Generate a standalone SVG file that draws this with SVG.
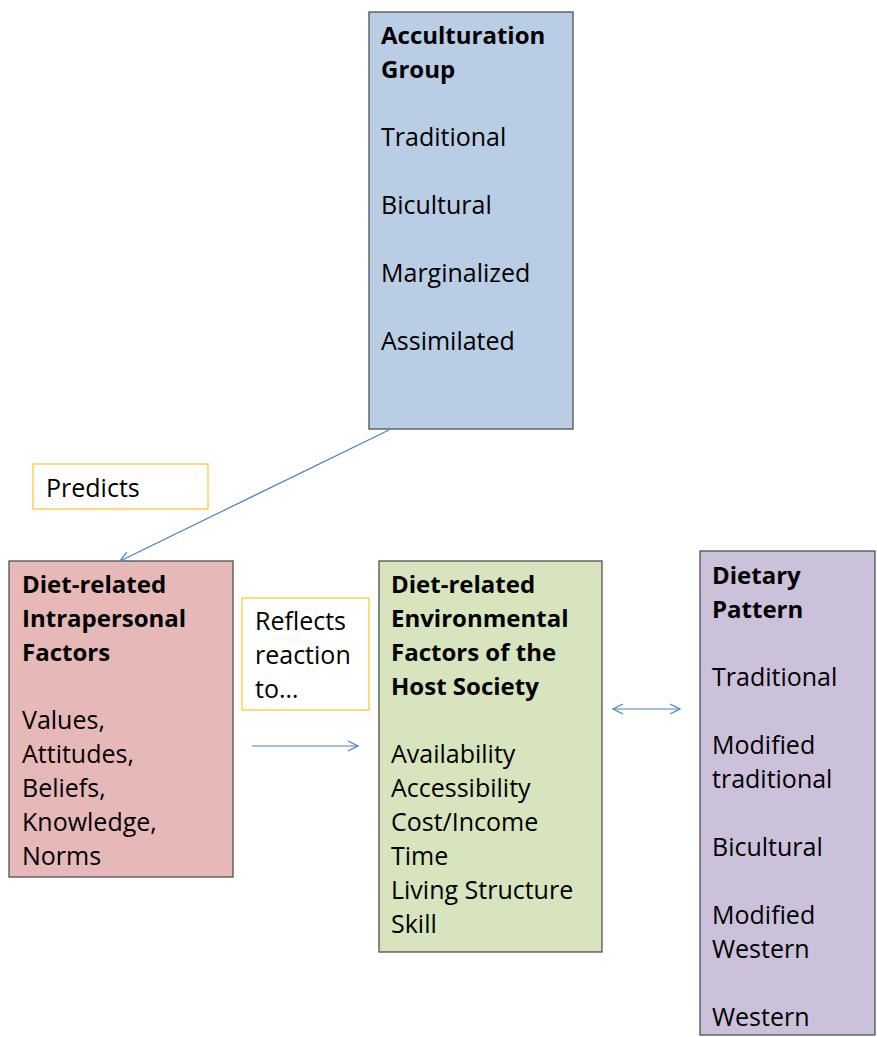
<svg xmlns="http://www.w3.org/2000/svg" width="877" height="1037" viewBox="0 0 877 1037">
<style>
text{font-family:"Open Sans",Lato,"Liberation Sans",sans-serif;font-size:25px;fill:#000}
.b{font-weight:bold;font-size:24px}
.box{stroke:#505050;stroke-width:1.3}
.lbl{fill:#fff;stroke:#FFC838;stroke-width:1.3}
.con{stroke:#4F81BD;stroke-width:1.2;fill:none}
</style>
<defs>
<marker id="ah" viewBox="0 0 12 12" refX="11" refY="6" markerWidth="12" markerHeight="12" markerUnits="userSpaceOnUse" orient="auto-start-reverse">
<path d="M1,1 L11,6 L1,11" fill="none" stroke="#4F81BD" stroke-width="1.2"/>
</marker>
</defs>
<rect width="877" height="1037" fill="#fff"/>
<g id="acculturation">
<rect class="box" x="369" y="12" width="204" height="417" fill="#B9CDE5"/>
<text x="381" y="44" class="b">Acculturation</text>
<text x="381" y="78" class="b">Group</text>
<text x="381" y="146">Traditional</text>
<text x="381" y="214">Bicultural</text>
<text x="381" y="282">Marginalized</text>
<text x="381" y="350">Assimilated</text>
</g>
<g id="predicts">
<rect class="lbl" x="33" y="464" width="175" height="45"/>
<text x="46" y="497">Predicts</text>
</g>
<g id="intrapersonal">
<rect class="box" x="9" y="561" width="224" height="316" fill="#E6B9B8"/>
<text x="22" y="593" class="b">Diet-related</text>
<text x="22" y="627" class="b">Intrapersonal</text>
<text x="22" y="661" class="b">Factors</text>
<text x="22" y="729">Values,</text>
<text x="22" y="763">Attitudes,</text>
<text x="22" y="797">Beliefs,</text>
<text x="22" y="831">Knowledge,</text>
<text x="22" y="865">Norms</text>
</g>
<g id="reflects">
<rect class="lbl" x="242" y="598" width="127" height="112"/>
<text x="255" y="630">Reflects</text>
<text x="255" y="664">reaction</text>
<text x="255" y="698">to…</text>
</g>
<g id="environmental">
<rect class="box" x="379" y="561" width="223" height="391" fill="#D7E4BD"/>
<text x="391" y="593" class="b">Diet-related</text>
<text x="391" y="627" class="b">Environmental</text>
<text x="391" y="661" class="b">Factors of the</text>
<text x="391" y="695" class="b">Host Society</text>
<text x="391" y="763">Availability</text>
<text x="391" y="797">Accessibility</text>
<text x="391" y="831">Cost/Income</text>
<text x="391" y="865">Time</text>
<text x="391" y="899">Living Structure</text>
<text x="391" y="933">Skill</text>
</g>
<g id="dietary">
<rect class="box" x="700" y="551" width="175" height="484" fill="#CCC1DA"/>
<text x="712" y="584" class="b">Dietary</text>
<text x="712" y="618" class="b">Pattern</text>
<text x="712" y="686">Traditional</text>
<text x="712" y="754">Modified</text>
<text x="712" y="788">traditional</text>
<text x="712" y="856">Bicultural</text>
<text x="712" y="924">Modified</text>
<text x="712" y="958">Western</text>
<text x="712" y="1026">Western</text>
</g>
<g id="connectors">
<line class="con" x1="389" y1="430" x2="120" y2="561" marker-end="url(#ah)"/>
<line class="con" x1="252" y1="746" x2="358" y2="746" marker-end="url(#ah)"/>
<line class="con" x1="613" y1="709" x2="680" y2="709" marker-start="url(#ah)" marker-end="url(#ah)"/>
</g>
</svg>
